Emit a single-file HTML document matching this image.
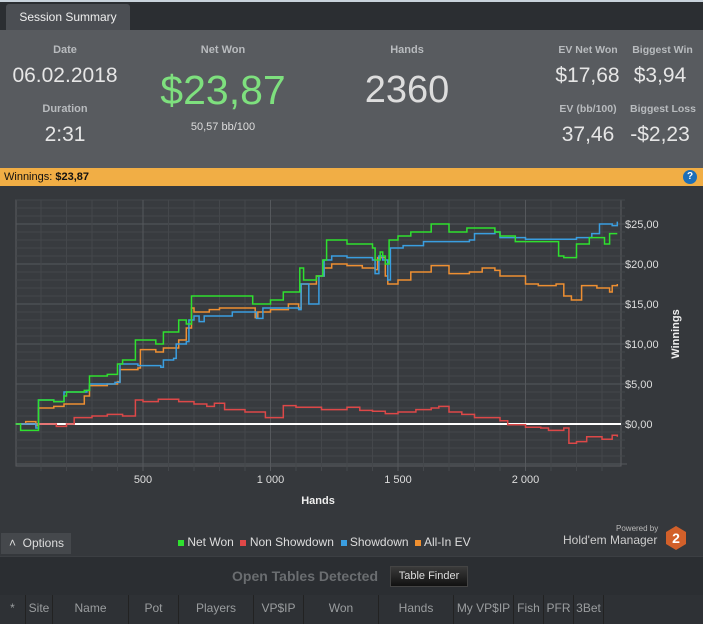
<!DOCTYPE html>
<html><head><meta charset="utf-8"><style>
*{margin:0;padding:0;box-sizing:border-box}
body{width:703px;height:624px;background:#2b2e32;font-family:"Liberation Sans",sans-serif;position:relative;overflow:hidden;color:#ddd}
.abs{position:absolute}
.lbl{color:#b8bbbe;font-size:11px;text-align:center;font-weight:bold}
.val{color:#e6e6e6;text-align:center}
</style></head><body>
<div class="abs" style="left:0;top:0;width:703px;height:2px;background:#c9d3dc"></div>
<div class="abs" style="left:6px;top:4px;width:124px;height:27px;background:#4b4e53;border-radius:3px 3px 0 0;color:#eee;font-size:12px;line-height:27px;text-align:center">Session Summary</div>
<div class="abs" style="left:0;top:30px;width:703px;height:138px;background:#585b5f">
 <div class="abs lbl" style="left:15px;top:14px;width:100px">Date</div>
 <div class="abs val" style="left:5px;top:34px;width:120px;font-size:21px">06.02.2018</div>
 <div class="abs lbl" style="left:15px;top:73px;width:100px">Duration</div>
 <div class="abs val" style="left:15px;top:93px;width:100px;font-size:21px">2:31</div>
 <div class="abs lbl" style="left:173px;top:14px;width:100px">Net Won</div>
 <div class="abs" style="left:143px;top:37px;width:160px;font-size:41px;color:#7ee07e;text-align:center">$23,87</div>
 <div class="abs val" style="left:173px;top:91px;width:100px;font-size:11px;color:#ddd">50,57 bb/100</div>
 <div class="abs lbl" style="left:357px;top:14px;width:100px">Hands</div>
 <div class="abs val" style="left:342px;top:39px;width:130px;font-size:38px;color:#ddd">2360</div>
 <div class="abs lbl" style="left:553px;top:14px;width:70px;font-size:10.5px">EV Net Won</div>
 <div class="abs val" style="left:550px;top:34px;width:75px;font-size:21px">$17,68</div>
 <div class="abs lbl" style="left:625px;top:14px;width:75px;font-size:10.5px">Biggest Win</div>
 <div class="abs val" style="left:625px;top:34px;width:70px;font-size:21px">$3,94</div>
 <div class="abs lbl" style="left:553px;top:73px;width:70px;font-size:10.5px">EV (bb/100)</div>
 <div class="abs val" style="left:553px;top:93px;width:70px;font-size:21px">37,46</div>
 <div class="abs lbl" style="left:625px;top:73px;width:76px;font-size:10.5px">Biggest Loss</div>
 <div class="abs val" style="left:625px;top:93px;width:70px;font-size:21px">-$2,23</div>
</div>
<div class="abs" style="left:0;top:168px;width:703px;height:18px;background:#f1ae45;color:#111;font-size:11px;line-height:18px;padding-left:4px">Winnings: <b>$23,87</b></div>
<div class="abs" style="left:683px;top:170px;width:14px;height:14px;border-radius:50%;background:#1d6fb8;color:#fff;font-size:10px;font-weight:bold;text-align:center;line-height:14px">?</div>
<div class="abs" style="left:0;top:186px;width:703px;height:370px;background:#35383c"></div>
<svg class="abs" style="left:0;top:186px" width="703" height="370" id="chart"></svg>
<div class="abs" style="left:1px;top:533px;width:70px;height:21px;background:#45484c;color:#ddd;font-size:12px;line-height:21px;padding-left:8px">˄&nbsp; Options</div>
<div class="abs" style="left:178px;top:535px;font-size:12px;color:#ddd;white-space:nowrap">
 <span><span style="display:inline-block;width:6px;height:6px;background:#2fe02f"></span> Net Won</span>&nbsp;
 <span><span style="display:inline-block;width:6px;height:6px;background:#e04848"></span> Non Showdown</span>&nbsp;
 <span><span style="display:inline-block;width:6px;height:6px;background:#3a9ee0"></span> Showdown</span>&nbsp;
 <span><span style="display:inline-block;width:6px;height:6px;background:#f09030"></span> All-In EV</span>
</div>
<div class="abs" style="left:616px;top:524px;font-size:8px;color:#bbb">Powered by</div>
<div class="abs" style="left:563px;top:533px;font-size:12px;color:#ccc">Hold'em Manager</div>
<div class="abs" style="left:666px;top:526px;width:20px;height:24px;background:#d2602a;clip-path:polygon(50% 0,100% 25%,100% 75%,50% 100%,0 75%,0 25%);color:#fff;font-weight:bold;font-size:14px;text-align:center;line-height:24px">2</div>
<div class="abs" style="left:0;top:556px;width:703px;height:12px;background:#2b2e32;border-top:1px solid #3c3f43"></div>
<div class="abs" style="left:232px;top:568px;font-size:14px;font-weight:bold;color:#6a6d70">Open Tables Detected</div>
<div class="abs" style="left:390px;top:566px;width:78px;height:21px;background:linear-gradient(#3a3a3a,#111);border:1px solid #444;color:#ddd;font-size:11px;text-align:center;line-height:19px">Table Finder</div>
<div class="abs" style="left:0;top:595px;width:703px;height:29px;background:#2e3135;font-size:12px;color:#9a9d9f" id="hdr"></div>
<script>
const hdrCols=[["*",0,26],["Site",26,27],["Name",53,76],["Pot",129,50],["Players",179,75],["VP$IP",254,50],["Won",304,75],["Hands",379,75],["My VP$IP",454,60],["Fish",514,30],["PFR",544,30],["3Bet",574,30]];
const hdr=document.getElementById('hdr');
hdrCols.forEach(c=>{const d=document.createElement('div');


d.style.cssText=`position:absolute;left:${c[1]}px;top:0;width:${c[2]}px;height:29px;line-height:27px;text-align:center;border-right:1px solid #222`;d.textContent=c[0];hdr.appendChild(d);});

const netWonHands=[0,20,80,90,150,190,200,270,290,360,400,420,450,470,550,580,620,640,670,690,800,920,930,1000,1050,1110,1115,1130,1180,1205,1220,1300,1400,1410,1430,1440,1450,1465,1500,1550,1630,1700,1750,1770,1820,1880,1900,1960,2000,2100,2130,2150,2200,2250,2300,2310,2330,2360];
const netWonVals=[0,-0.8,-0.8,3,2.8,3.5,4,4.2,6,6.2,7.5,8,8,10.5,10,11.5,11.5,13,12.5,16,16,16,15,15.5,16.5,16.5,19.5,18,18.5,20.5,23,22.5,22,20.5,21.5,21,20,23,23.5,24,25,24,24,24.5,24.5,24,23.5,22.8,22.8,22.8,21,20.8,22.5,23.3,23.3,22.5,23.8,23.8];
const showdownHands=[0,80,90,150,190,280,290,390,410,480,570,580,620,630,670,680,700,720,740,850,940,945,970,1060,1110,1120,1150,1180,1190,1210,1240,1300,1350,1400,1410,1425,1440,1460,1470,1520,1550,1600,1700,1780,1800,1880,1900,2000,2080,2150,2200,2260,2290,2330,2340,2360];
const showdownVals=[0,-0.5,3,2.8,4,4.2,5,5.2,7.5,7.3,7.1,8,8.2,10,10.3,13,13.5,12.8,13.5,14,14,13.2,14.5,14.5,14.3,17.5,15,15,18.5,20.5,21,20.8,20.8,20.5,18.8,21,20.5,18,22,22.3,22.3,22.8,22.8,23,23.8,24,23.3,23.1,23.1,23.1,23.3,23.8,25,25,24.8,25.3];
const allInHands=[0,40,80,90,150,190,270,290,360,400,410,480,490,550,580,640,670,690,700,760,800,900,940,950,1000,1070,1110,1120,1150,1180,1210,1240,1300,1360,1410,1420,1450,1460,1500,1550,1630,1700,1780,1830,1880,1900,2000,2050,2120,2150,2180,2220,2280,2330,2340,2360];
const allInVals=[0,0.3,-0.2,2,2.2,2.5,3.5,4.8,5,5.3,6.8,7,9.3,9,9.5,10.5,12,14.5,14,14.3,14.5,14.5,13.3,14,14.3,15,14.5,17.5,17.5,18.5,19.5,20,19.8,19.5,19.3,20.8,18.5,17.5,18,19,19.8,18.8,19,19.5,19.2,18.5,17.5,17.3,17.5,16,15.5,17.3,17,16.5,17.3,17.5];
const nonShowHands=[0,100,160,200,230,300,360,420,470,500,560,640,700,750,780,820,900,980,1050,1100,1200,1280,1300,1350,1400,1450,1500,1570,1630,1660,1700,1750,1800,1900,1930,2000,2060,2090,2150,2170,2200,2240,2300,2340,2360];
const nonShowVals=[0,0,-0.3,0,0.8,1,1.2,1,3,2.8,3.1,2.8,2.5,2.2,2.6,1.8,1.5,0.8,2.3,2.1,1.8,1.8,2.1,1.7,1.6,1.3,1.5,1.8,2,2.2,1.5,1.2,0.8,0.4,-0.1,-0.4,-0.5,-0.8,-0.5,-2.4,-2.2,-1.6,-1.9,-1.4,-1.6];
const xTicks=[500,1000,1500,2000];
const xTickLabels=["500","1 000","1 500","2 000"];
const yTicks=[0,5,10,15,20,25];
const yTickLabels=["$0,00","$5,00","$10,00","$15,00","$20,00","$25,00"];

const svg=document.getElementById('chart');const NS='http://www.w3.org/2000/svg';
const L=16,R=621,T=14,B=280;
const xS=h=>15.5+h*0.255;
const yS=v=>238-v*8;
function el(t,a,p){const e=document.createElementNS(NS,t);for(const k in a)e.setAttribute(k,a[k]);(p||svg).appendChild(e);return e;}
const bg=el('rect',{x:L,y:T,width:R-L,height:B-T,fill:'#383b3f',stroke:'#5a5d60'});


for(let v=-5;v<=28;v++){const y=yS(v);if(y<T||y>B)continue;const g=el('line',{x1:L,x2:R+(v%5==0?6:4),y1:y,y2:y,stroke:v%5==0?'#55585c':'#44474b','stroke-width':1});

}
for(let h=100;h<=2360;h+=100){const x=xS(h);const g=el('line',{x1:x,x2:x,y1:T,y2:B+5,stroke:h%500==0?'#55585c':'#44474b','stroke-width':1});

}
xTicks.forEach((t,i)=>{const tx=el('text',{x:xS(t),y:B+17,fill:'#ddd','font-size':11,'text-anchor':'middle','font-family':'Liberation Sans'});tx.textContent=xTickLabels[i];

});
yTicks.forEach((t,i)=>{const tx=el('text',{x:R+4,y:yS(t)+4,fill:'#ddd','font-size':11,'font-family':'Liberation Sans'});tx.textContent=yTickLabels[i];

});
const xt=el('text',{x:318,y:318,fill:'#eee','font-size':11,'font-weight':'bold','text-anchor':'middle','font-family':'Liberation Sans'});xt.textContent='Hands';


const yt=el('text',{x:0,y:0,fill:'#eee','font-size':11,'font-weight':'bold','text-anchor':'middle','font-family':'Liberation Sans',transform:'translate(679,148) rotate(-90)'});yt.textContent='Winnings';


const zl=el('line',{x1:L,x2:R,y1:yS(0),y2:yS(0),stroke:'#fff','stroke-width':2});


function series(hs,vs,c,name){let d='';hs.forEach((h,i)=>{const x=xS(h).toFixed(1),y=yS(vs[i]).toFixed(1);
if(i==0)d+='M'+x+','+y;else d+='H'+x+'V'+y;});
const p=el('path',{d:d,fill:'none',stroke:c,'stroke-width':1.5});

}
series(nonShowHands,nonShowVals,'#dd4848','non-showdown-line');
series(allInHands,allInVals,'#ee8f32','all-in-ev-line');
series(showdownHands,showdownVals,'#3a9ee0','showdown-line');
series(netWonHands,netWonVals,'#2fe02f','net-won-line');
</script>
</body></html>
